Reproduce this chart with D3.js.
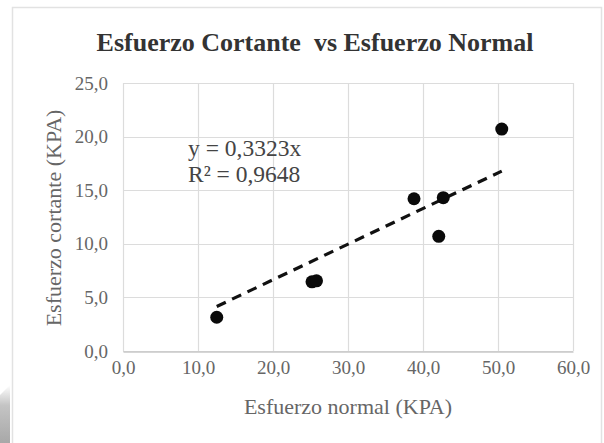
<!DOCTYPE html>
<html>
<head>
<meta charset="utf-8">
<script src="https://cdn.jsdelivr.net/npm/d3@7"></script>
<style>
  html, body { margin: 0; padding: 0; background: #fff; }
  svg { display: block; }
  svg text { font-family: "Liberation Serif", Tinos, "Times New Roman", serif !important; }
</style>
</head>
<body>
<script>
// Shear stress vs normal stress, with a zero-intercept linear trend line.
const normalStress = [12.5, 25.2, 25.8, 38.8, 42.7, 42.1, 50.5];
const shearStress  = [3.15, 6.45, 6.55, 14.2, 14.3, 10.7, 20.7];
const slope = 0.3323;
const rSquared = "0,9648";
const xTicks = [0, 10, 20, 30, 40, 50, 60];
const yTicks = [0, 5, 10, 15, 20, 25];
const titleText = "Esfuerzo Cortante\u00a0\u00a0vs Esfuerzo Normal";
const xTitle = "Esfuerzo normal (KPA)";
const yTitle = "Esfuerzo cortante (KPA)";

const W = 604, H = 443;
const plot = { left: 123, right: 573, top: 83, bottom: 351 };
const fmt = v => d3.format(".1f")(v).replace(".", ",");

const svg = d3.select("body").append("svg").attr("width", W).attr("height", H);

// Outer chart frame and the shaded corner at the lower left
const defs = svg.append("defs");
const grad = defs.append("linearGradient").attr("id", "corner").attr("x1", 0).attr("y1", 0).attr("x2", 0).attr("y2", 1);
grad.append("stop").attr("offset", 0).attr("stop-color", "#ffffff");
grad.append("stop").attr("offset", 0.35).attr("stop-color", "#c4c4c4");
grad.append("stop").attr("offset", 1).attr("stop-color", "#a8a8a8");
svg.append("path").attr("d", "M0,395 L10,385 L10,443 L0,443 Z").attr("fill", "url(#corner)");
svg.append("path").attr("d", "M12.5,443 V7.5 H601.5 V443")
  .attr("fill", "none").attr("stroke", "#e2e2e2").attr("stroke-width", 1.5);

const x = d3.scaleLinear().domain([0, 60]).range([plot.left, plot.right]);
const y = d3.scaleLinear().domain([0, 25]).range([plot.bottom, plot.top]);

// Gridlines
const grid = svg.append("g").attr("stroke", "#dcdcdc").attr("stroke-width", 1.2);
grid.selectAll("line.h").data(yTicks).join("line").attr("class", "h")
  .attr("x1", plot.left).attr("x2", plot.right)
  .attr("y1", d => Math.round(y(d)) + 0.5).attr("y2", d => Math.round(y(d)) + 0.5);
grid.selectAll("line.v").data(xTicks).join("line").attr("class", "v")
  .attr("y1", plot.top).attr("y2", plot.bottom)
  .attr("x1", d => Math.round(x(d)) + 0.5).attr("x2", d => Math.round(x(d)) + 0.5);

// Horizontal axis with tick labels
const xAxis = svg.append("g").attr("transform", `translate(0,${Math.round(y(0)) + 0.5})`)
  .call(d3.axisBottom(x).tickValues(xTicks).tickFormat(fmt).tickSize(0).tickPadding(9));
xAxis.select(".domain").attr("stroke", "#c8c8c8").attr("stroke-width", 1.5);
xAxis.selectAll("text").attr("font-size", 19).attr("fill", "#666");

// Vertical axis tick labels
const yAxis = svg.append("g").attr("transform", `translate(${plot.left},0)`)
  .call(d3.axisLeft(y).tickValues(yTicks).tickFormat(fmt).tickSize(0).tickPadding(15));
yAxis.select(".domain").remove();
yAxis.selectAll("text").attr("font-size", 19).attr("fill", "#666");

// Trend line y = slope * x over the span of the data
const xs = d3.extent(normalStress);
svg.append("line")
  .attr("x1", x(xs[0])).attr("y1", y(slope * xs[0]))
  .attr("x2", x(xs[1])).attr("y2", y(slope * xs[1]))
  .attr("stroke", "#111").attr("stroke-width", 3.2)
  .attr("stroke-dasharray", "10,7");

// Data points
svg.append("g").selectAll("circle")
  .data(normalStress.map((v, i) => [v, shearStress[i]]))
  .join("circle")
  .attr("cx", d => x(d[0])).attr("cy", d => y(d[1])).attr("r", 6.5)
  .attr("fill", "#0a0a0a");

// Equation label
const eq = svg.append("text").attr("font-size", 23.5).attr("fill", "#444");
eq.append("tspan").attr("x", 188).attr("y", 156).text(`y = ${String(slope).replace(".", ",")}x`);
eq.append("tspan").attr("x", 188).attr("y", 182).text(`R\u00b2 = ${rSquared}`);

// Titles
svg.append("text").attr("x", 315).attr("y", 51).attr("text-anchor", "middle")
  .attr("font-weight", "bold").attr("font-size", 26)
  .attr("fill", "#333").text(titleText);
svg.append("text").attr("x", 348).attr("y", 414).attr("text-anchor", "middle")
  .attr("font-size", 22).attr("fill", "#666").text(xTitle);
svg.append("text").attr("transform", "translate(61,218) rotate(-90)").attr("text-anchor", "middle")
  .attr("font-size", 22).attr("fill", "#666").text(yTitle);
</script>
</body>
</html>
